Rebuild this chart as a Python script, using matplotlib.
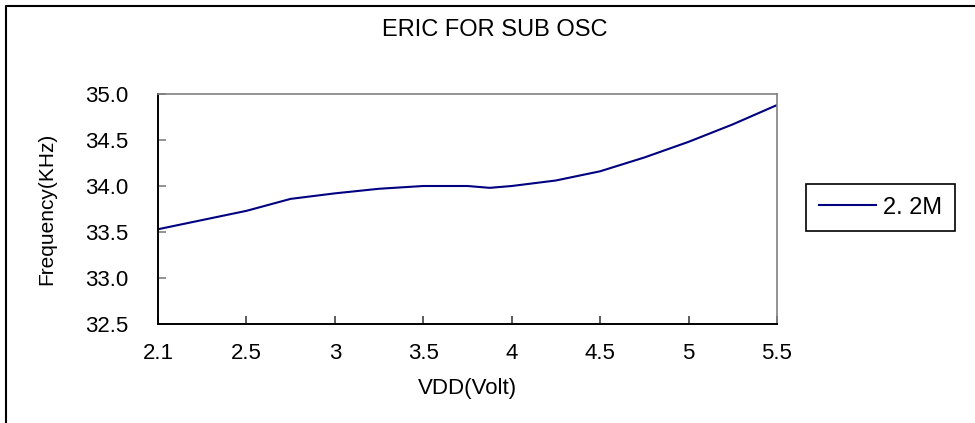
import numpy as np
import matplotlib
matplotlib.use("Agg")
import matplotlib.pyplot as plt
from matplotlib.lines import Line2D

plt.rcParams['font.family'] = ['Liberation Sans', 'DejaVu Sans']

# Supply voltage (V) and measured sub-oscillator frequency (kHz)
vdd = [2.1, 2.5, 2.75, 3.0, 3.25, 3.5, 3.75, 3.875, 4.0, 4.25, 4.5, 4.75, 5.0, 5.25, 5.5]
freq = [33.53, 33.73, 33.86, 33.92, 33.97, 34.00, 34.00, 33.98, 34.00, 34.06, 34.16, 34.31, 34.48, 34.67, 34.88]
series_name = "2. 2M"

# Axis labelling: the voltage ticks are evenly spaced on the category-style axis
x_ticks = [2.1, 2.5, 3, 3.5, 4, 4.5, 5, 5.5]
x_tick_labels = ["2.1", "2.5", "3", "3.5", "4", "4.5", "5", "5.5"]
y_ticks = [32.5, 33.0, 33.5, 34.0, 34.5, 35.0]

W, H = 975, 423
fig = plt.figure(figsize=(W / 100, H / 100), dpi=100)
fig.patch.set_facecolor('white')

# plot area in pixel coordinates
left, right, top, bottom = 158, 777, 94, 324
ax = fig.add_axes([left / W, 1 - bottom / H, (right - left) / W, (bottom - top) / H])

# map voltages onto evenly spaced tick positions
tick_pos = np.arange(len(x_ticks))
x_pos = np.interp(vdd, x_ticks, tick_pos)

ax.plot(x_pos, freq, color='#000080', lw=1.5, label=series_name)

ax.set_xlim(0, len(x_ticks) - 1)
ax.set_ylim(32.5, 35.0)
ax.set_xticks(tick_pos)
ax.set_xticklabels(x_tick_labels)
ax.set_yticks(y_ticks)
ax.set_yticklabels([f"{v:.1f}" for v in y_ticks])

ax.tick_params(axis='y', direction='in', length=6, width=1.2, color='#808080',
               labelsize=16, pad=21)
ax.tick_params(axis='x', direction='in', length=6, width=1.2, color='#404040',
               labelsize=16, pad=14)

for side in ('top', 'right'):
    ax.spines[side].set_color('#808080')
    ax.spines[side].set_linewidth(1.2)
for side in ('left', 'bottom'):
    ax.spines[side].set_color('black')
    ax.spines[side].set_linewidth(1.4)

ax.set_xlabel("VDD(Volt)", fontsize=16, va='center')
ax.xaxis.set_label_coords(0.5, -(388 - bottom) / (bottom - top))
ax.set_ylabel("Frequency(KHz)", fontsize=15, va='center')
ax.yaxis.set_label_coords(-(left - 47) / (right - left), 0.5)

fig.suptitle("ERIC FOR SUB OSC", x=495 / W, y=1 - 30 / H, va='center', fontsize=17)

leg = ax.legend(loc='center left', bbox_to_anchor=(806 / W, 1 - 207.5 / H),
                bbox_transform=fig.transFigure, borderaxespad=0, fontsize=17,
                frameon=True, fancybox=False, framealpha=1, edgecolor='black',
                handlelength=2.4, handletextpad=0.3, borderpad=0.55)
leg.get_frame().set_linewidth(1.2)

# outer chart border (left and top edges visible)
fig.add_artist(Line2D([6 / W, 6 / W, 1.0], [0.0, 1 - 6 / H, 1 - 6 / H],
                      transform=fig.transFigure, color='black', lw=1.5))

fig.savefig("out.png", dpi=100, facecolor='white')
